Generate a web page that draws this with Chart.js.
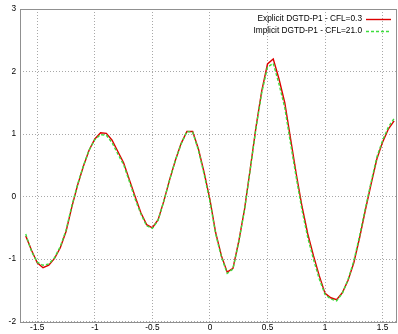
<!DOCTYPE html>
<html>
<head>
<meta charset="utf-8">
<script src="https://cdn.jsdelivr.net/npm/chart.js@4/dist/chart.umd.min.js"></script>
<style>
  html, body { margin: 0; padding: 0; background: #fff; }
  #wrap { width: 398px; height: 334px; }
</style>
</head>
<body>
<div id="wrap"><canvas id="lineChart" width="398" height="334"></canvas></div>
<script>
// values
var xValues = [-1.60, -1.55, -1.50, -1.45, -1.40, -1.35, -1.30, -1.25, -1.20, -1.15,
  -1.10, -1.05, -1.00, -0.95, -0.90, -0.85, -0.80, -0.75, -0.70, -0.65,
  -0.60, -0.55, -0.50, -0.45, -0.40, -0.35, -0.30, -0.25, -0.20, -0.15,
  -0.10, -0.05, 0.00, 0.05, 0.10, 0.15, 0.20, 0.25, 0.30, 0.35,
  0.40, 0.45, 0.50, 0.55, 0.60, 0.65, 0.70, 0.75, 0.80, 0.85,
  0.90, 0.95, 1.00, 1.05, 1.10, 1.15, 1.20, 1.25, 1.30, 1.35,
  1.40, 1.45, 1.50, 1.55, 1.60];
var explicitValues = [-0.63, -0.86, -1.06, -1.14, -1.10, -0.99, -0.82, -0.56, -0.17, 0.18,
  0.48, 0.74, 0.92, 1.02, 1.01, 0.90, 0.72, 0.54, 0.27, 0.00,
  -0.26, -0.45, -0.50, -0.37, -0.07, 0.27, 0.58, 0.85, 1.04, 1.04,
  0.76, 0.38, -0.05, -0.58, -0.95, -1.21, -1.15, -0.72, -0.21, 0.44,
  1.11, 1.69, 2.12, 2.20, 1.88, 1.50, 0.93, 0.36, -0.16, -0.60,
  -0.95, -1.27, -1.55, -1.62, -1.65, -1.54, -1.34, -1.06, -0.66, -0.22,
  0.20, 0.60, 0.87, 1.08, 1.21];
var implicitValues = [-0.60, -0.88, -1.05, -1.10, -1.08, -0.98, -0.80, -0.54, -0.15, 0.19,
  0.49, 0.74, 0.91, 0.99, 0.98, 0.86, 0.68, 0.51, 0.24, -0.04,
  -0.28, -0.47, -0.51, -0.38, -0.07, 0.27, 0.58, 0.84, 1.04, 1.03,
  0.74, 0.35, -0.08, -0.60, -0.97, -1.23, -1.16, -0.73, -0.22, 0.43,
  1.09, 1.66, 2.07, 2.13, 1.80, 1.42, 0.85, 0.30, -0.22, -0.66,
  -1.01, -1.32, -1.57, -1.64, -1.67, -1.55, -1.33, -1.03, -0.63, -0.19,
  0.23, 0.63, 0.90, 1.11, 1.25];
var seriesLabels = ["Explicit DGTD-P1 - CFL=0.3", "Implicit DGTD-P1 - CFL=21.0"];
var xTicks = [-1.5, -1, -0.5, 0, 0.5, 1, 1.5];
var yTicks = [-2, -1, 0, 1, 2, 3];

var FONT = "'Liberation Sans', Arial, sans-serif";

function toPoints(ys) {
  var pts = [];
  for (var i = 0; i < xValues.length; i++) {
    pts.push({x: xValues[i], y: ys[i]});
  }
  return pts;
}

// gnuplot style frame round the plot
var framePlugin = {
  id: 'frame',
  beforeDatasetsDraw: function(chart) {
    var a = chart.chartArea, ctx = chart.ctx;
    ctx.save();
    ctx.strokeStyle = '#909090';
    ctx.lineWidth = 1;
    ctx.strokeRect(Math.round(a.left) + 0.5, Math.round(a.top) + 0.5,
      Math.round(a.right - a.left) - 1, Math.round(a.bottom - a.top));
    ctx.restore();
  }
};

// key in the top right corner: text first, then the line sample
var keyPlugin = {
  id: 'key',
  afterDatasetsDraw: function(chart) {
    var ctx = chart.ctx;
    var ds = chart.data.datasets;
    ctx.save();
    ctx.font = "8.3px " + FONT;
    ctx.textAlign = 'right';
    ctx.textBaseline = 'middle';
    for (var i = 0; i < ds.length; i++) {
      var y = 19 + i * 12;
      ctx.fillStyle = '#000';
      ctx.fillText(ds[i].label, 362, y);
      ctx.strokeStyle = ds[i].borderColor;
      ctx.lineWidth = ds[i].borderWidth;
      ctx.setLineDash(ds[i].borderDash || []);
      ctx.beginPath();
      ctx.moveTo(366, y + 0.5);
      ctx.lineTo(391, y + 0.5);
      ctx.stroke();
    }
    ctx.restore();
  }
};

var ctxL = document.getElementById("lineChart").getContext('2d');
var myLineChart = new Chart(ctxL, {
  type: 'line',
  data: {
    datasets: [
      {
        label: seriesLabels[0],
        data: toPoints(explicitValues),
        borderColor: '#dd0000',
        borderWidth: 1.4,
        pointRadius: 0,
        tension: 0,
        fill: false,
        order: 1
      },
      {
        label: seriesLabels[1],
        data: toPoints(implicitValues),
        borderColor: '#3ddd3d',
        borderWidth: 1.4,
        borderDash: [3, 2],
        pointRadius: 0,
        tension: 0,
        fill: false,
        order: 0
      }
    ]
  },
  options: {
    responsive: false,
    animation: false,
    layout: { padding: { top: 9, right: 1, left: 0, bottom: 0 } },
    plugins: {
      legend: { display: false },
      tooltip: { enabled: false }
    },
    scales: {
      x: {
        type: 'linear',
        min: -1.65,
        max: 1.625,
        afterBuildTicks: function(s) { s.ticks = xTicks.map(function(v) { return {value: v}; }); },
        afterFit: function(s) { s.height = 12.5; },
        ticks: {
          padding: 1,
          maxRotation: 0,
          autoSkip: false,
          color: '#000',
          font: { family: FONT, size: 8.3 },
          callback: function(v) { return String(v); }
        },
        grid: { color: '#a8a8a8', drawTicks: false, lineWidth: 1 },
        border: { display: false, dash: [1, 2] }
      },
      y: {
        min: -2,
        max: 3,
        afterBuildTicks: function(s) { s.ticks = yTicks.map(function(v) { return {value: v}; }); },
        afterFit: function(s) { s.width = 20; },
        ticks: {
          padding: 4,
          color: '#000',
          font: { family: FONT, size: 8.3 },
          callback: function(v) { return String(v); }
        },
        grid: { color: '#a8a8a8', drawTicks: false, lineWidth: 1 },
        border: { display: false, dash: [1, 2] }
      }
    }
  },
  plugins: [framePlugin, keyPlugin]
});
</script>
</body>
</html>
